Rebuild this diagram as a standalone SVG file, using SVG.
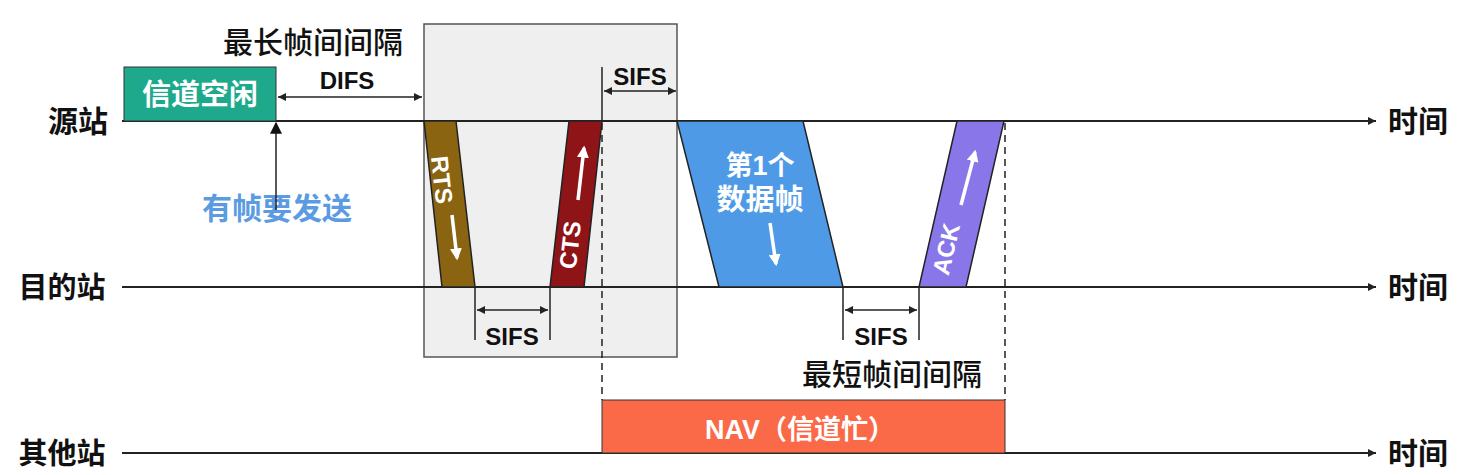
<svg xmlns="http://www.w3.org/2000/svg" width="1466" height="475" viewBox="0 0 1466 475">
<style>
.t{font-family:"Liberation Sans","Noto Sans CJK SC",sans-serif;font-weight:bold;fill:#111}
.w{fill:#fff}
.ln{stroke:#222;stroke-width:2;fill:none}
.thin{stroke:#222;stroke-width:1.5;fill:none}
.dash{stroke:#222;stroke-width:1.5;stroke-dasharray:7,5;fill:none}
.fr{stroke:#222;stroke-width:1.5}
.wa{stroke:#fff;stroke-width:3.5;fill:none}
</style>
<defs>
<marker id="ah" viewBox="0 0 10 10" refX="10" refY="5" markerWidth="10" markerHeight="8" markerUnits="userSpaceOnUse" orient="auto-start-reverse"><path d="M0,0L10,5L0,10z" fill="#222"/></marker>
<marker id="ahw" viewBox="0 0 10 10" refX="8" refY="5" markerWidth="12" markerHeight="12" markerUnits="userSpaceOnUse" orient="auto"><path d="M0,0L10,5L0,10z" fill="#fff"/></marker>
<marker id="ahb" viewBox="0 0 10 10" refX="9" refY="5" markerWidth="12" markerHeight="12" markerUnits="userSpaceOnUse" orient="auto"><path d="M0,0L10,5L0,10z" fill="#111"/></marker>
</defs>
<rect width="1466" height="475" fill="#fff"/>
<g id="window">
<rect x="424" y="24" width="253" height="333" fill="#f0eff0" stroke="#555" stroke-width="1.5"/>
</g>
<g id="timelines">
<line class="ln" x1="122" y1="121" x2="1376" y2="121" marker-end="url(#ah)"/>
<line class="ln" x1="122" y1="287" x2="1376" y2="287" marker-end="url(#ah)"/>
<line class="ln" x1="122" y1="453" x2="1376" y2="453" marker-end="url(#ah)"/>
</g>
<g id="labels">
<text class="t" x="78" y="132" font-size="30" text-anchor="middle">源站</text>
<text class="t" x="62" y="298" font-size="29" text-anchor="middle">目的站</text>
<text class="t" x="62" y="464" font-size="29" text-anchor="middle">其他站</text>
<text class="t" x="1418" y="132" font-size="30" text-anchor="middle">时间</text>
<text class="t" x="1418" y="298" font-size="30" text-anchor="middle">时间</text>
<text class="t" x="1418" y="464" font-size="30" text-anchor="middle">时间</text>
</g>
<g id="idle">
<rect x="124" y="67" width="152" height="54" fill="#1ea98c" stroke="#333" stroke-width="1"/>
<text class="t w" x="200" y="105" font-size="29" text-anchor="middle">信道空闲</text>
</g>
<g id="send">
<text x="277" y="219" font-size="30" text-anchor="middle" class="t" style="fill:#5b9be2">有帧要发送</text>
</g>
<g id="rts">
<polygon class="fr" points="424,121 456,121 475,287 442,287" fill="#8a6410"/>
<text class="t w" font-size="24" transform="translate(442,180) rotate(83.8)" text-anchor="middle" dominant-baseline="central">RTS</text>
<line class="wa" x1="452" y1="215" x2="457" y2="258" marker-end="url(#ahw)"/>
</g>
<g id="cts">
<polygon class="fr" points="569,121 602,121 584,287 550,287" fill="#8e1418"/>
<text class="t w" font-size="24" transform="translate(570,245) rotate(-83.5)" text-anchor="middle" dominant-baseline="central">CTS</text>
<line class="wa" x1="578" y1="200" x2="584" y2="148" marker-end="url(#ahw)"/>
</g>
<g id="data">
<polygon class="fr" points="677,121 803,121 843,287 719,287" fill="#4e9ae6"/>
<text class="t w" x="760" y="175" font-size="27" text-anchor="middle">第1个</text>
<text class="t w" x="760" y="210" font-size="29" text-anchor="middle">数据帧</text>
<line class="wa" x1="770" y1="223" x2="776" y2="264" marker-end="url(#ahw)"/>
</g>
<g id="ack">
<polygon class="fr" points="957,121 1004,121 966,287 919,287" fill="#8977ea"/>
<text class="t w" font-size="24" transform="translate(946,249) rotate(-77)" text-anchor="middle" dominant-baseline="central">ACK</text>
<line class="wa" x1="961" y1="205" x2="975" y2="152" marker-end="url(#ahw)"/>
</g>
<g id="nav">
<rect x="602" y="400" width="403" height="53" fill="#fb6a48" stroke="#333" stroke-width="1"/>
<text class="t w" x="800" y="439" font-size="27" text-anchor="middle">NAV（信道忙）</text>
</g>
<g id="connectors">
<line class="thin" x1="276" y1="210" x2="276" y2="123" marker-end="url(#ahb)"/>
<line class="thin" x1="278" y1="97" x2="422" y2="97" marker-start="url(#ah)" marker-end="url(#ah)"/>
<line class="thin" x1="602" y1="67" x2="602" y2="121"/>
<line class="thin" x1="604" y1="91" x2="676" y2="91" marker-start="url(#ah)" marker-end="url(#ah)"/>
<line class="thin" x1="475" y1="287" x2="475" y2="340"/>
<line class="thin" x1="550" y1="287" x2="550" y2="340"/>
<line class="thin" x1="477" y1="310" x2="548" y2="310" marker-start="url(#ah)" marker-end="url(#ah)"/>
<line class="thin" x1="843" y1="287" x2="843" y2="340"/>
<line class="thin" x1="919" y1="287" x2="919" y2="340"/>
<line class="thin" x1="845" y1="310" x2="917" y2="310" marker-start="url(#ah)" marker-end="url(#ah)"/>
<line class="dash" x1="602" y1="123" x2="602" y2="400"/>
<line class="dash" x1="1005" y1="123" x2="1005" y2="400"/>
</g>
<g id="annotations">
<text class="t" x="313" y="53" font-size="30" text-anchor="middle" style="font-weight:500">最长帧间间隔</text>
<text class="t" x="347" y="89" font-size="24" text-anchor="middle">DIFS</text>
<text class="t" x="640" y="85" font-size="24" text-anchor="middle">SIFS</text>
<text class="t" x="512" y="345" font-size="24" text-anchor="middle">SIFS</text>
<text class="t" x="881" y="345" font-size="24" text-anchor="middle">SIFS</text>
<text class="t" x="892" y="385" font-size="30" text-anchor="middle" style="font-weight:500">最短帧间间隔</text>
</g>
</svg>
